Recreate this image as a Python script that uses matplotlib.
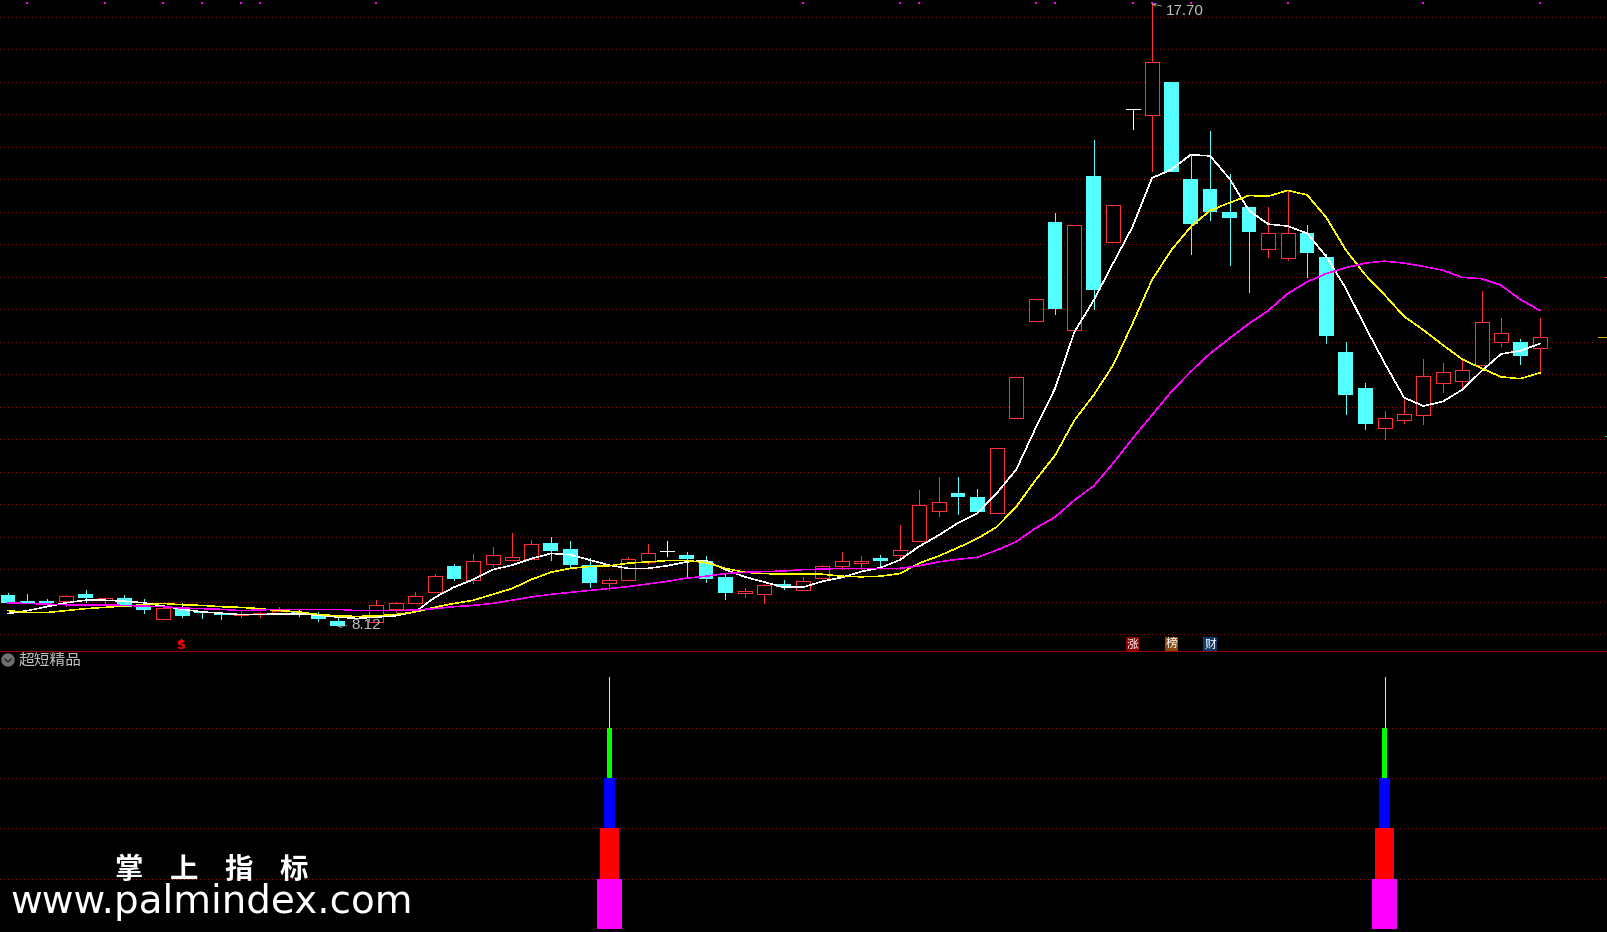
# Candlestick chart with moving averages and a signal panel
from matplotlib import pyplot as plt
from matplotlib.patches import Circle
from matplotlib.transforms import IdentityTransform
import numpy as np

# prices, candle by candle
opens = [8.60, 8.505, 8.505, 8.51, 8.61, 8.52, 8.55, 8.43, 8.23, 8.41,
         8.34, 8.32, 8.29, 8.30, 8.32, 8.34, 8.29, 8.20, 8.25, 8.19,
         8.39, 8.48, 8.65, 9.04, 8.83, 9.08, 9.14, 9.15, 9.40, 9.31,
         9.06, 8.79, 8.83, 9.11, 9.27, 9.21, 9.12, 8.87, 8.63, 8.61,
         8.77, 8.68, 8.86, 9.05, 9.09, 9.17, 9.22, 9.43, 9.89, 10.17,
         10.11, 9.87, 11.33, 12.82, 14.34, 12.68, 15.05, 14.04, 16.08, 15.99,
         16.50, 15.00, 14.85, 14.50, 14.57, 13.93, 13.79, 14.17, 13.80, 12.34,
         11.78, 11.17, 11.30, 11.37, 11.87, 11.89, 12.14, 12.49, 12.50, 12.40]
closes = [8.47, 8.47, 8.47, 8.58, 8.55, 8.55, 8.41, 8.37, 8.40, 8.27,
          8.32, 8.29, 8.30, 8.33, 8.36, 8.30, 8.23, 8.12, 8.27, 8.45,
          8.47, 8.59, 8.90, 8.84, 9.12, 9.21, 9.19, 9.39, 9.27, 9.06,
          8.78, 8.83, 9.15, 9.24, 9.27, 9.15, 8.84, 8.63, 8.66, 8.76,
          8.72, 8.82, 9.04, 9.12, 9.13, 9.12, 9.30, 9.98, 10.03, 10.11,
          9.88, 10.86, 11.95, 13.15, 13.00, 14.29, 13.29, 14.61, 16.08, 16.80,
          15.11, 14.31, 14.50, 14.40, 14.19, 14.17, 14.17, 13.87, 12.59, 11.68,
          11.24, 11.32, 11.38, 11.97, 12.04, 12.07, 12.80, 12.63, 12.28, 12.57]
highs = [8.63, 8.61, 8.54, 8.60, 8.67, 8.55, 8.60, 8.54, 8.41, 8.47,
         8.35, 8.34, 8.35, 8.34, 8.41, 8.37, 8.34, 8.26, 8.28, 8.52,
         8.49, 8.64, 8.92, 9.07, 9.23, 9.34, 9.55, 9.44, 9.49, 9.43,
         9.17, 8.86, 9.18, 9.38, 9.43, 9.26, 9.20, 8.92, 8.71, 8.77,
         8.83, 8.87, 9.06, 9.26, 9.20, 9.21, 9.68, 10.22, 10.42, 10.42,
         10.23, 10.86, 11.95, 13.15, 14.48, 14.29, 15.60, 14.61, 16.08, 17.70,
         16.50, 15.38, 15.74, 15.08, 14.57, 14.57, 14.84, 14.30, 13.85, 12.50,
         11.86, 11.43, 11.65, 12.23, 12.17, 12.24, 13.28, 12.86, 12.54, 12.86]
lows = [8.47, 8.47, 8.43, 8.43, 8.49, 8.47, 8.41, 8.32, 8.23, 8.26,
        8.24, 8.23, 8.26, 8.26, 8.32, 8.27, 8.20, 8.12, 8.24, 8.19,
        8.34, 8.48, 8.65, 8.83, 8.79, 9.05, 9.14, 9.15, 9.14, 9.03,
        8.72, 8.67, 8.83, 9.07, 9.20, 8.89, 8.80, 8.54, 8.57, 8.48,
        8.70, 8.68, 8.86, 9.00, 9.00, 9.03, 9.15, 9.43, 9.81, 9.85,
        9.88, 9.87, 11.33, 12.82, 12.93, 12.68, 13.00, 14.04, 15.77, 15.13,
        15.11, 13.85, 14.37, 13.68, 13.26, 13.80, 13.76, 13.50, 12.48, 11.38,
        11.15, 11.00, 11.25, 11.24, 11.73, 11.76, 12.14, 12.44, 12.15, 12.05]

ma_white = [8.315, 8.36, 8.42, 8.48, 8.52, 8.52, 8.505, 8.48, 8.43, 8.38,
            8.34, 8.32, 8.30, 8.30, 8.31, 8.31, 8.29, 8.26, 8.24, 8.26,
            8.28, 8.34, 8.56, 8.72, 8.84, 8.99, 9.06, 9.16, 9.24, 9.22,
            9.14, 9.06, 9.01, 9.01, 9.05, 9.11, 9.13, 8.99, 8.88, 8.80,
            8.72, 8.72, 8.81, 8.87, 8.96, 9.02, 9.14, 9.35, 9.52, 9.71,
            9.86, 10.17, 10.53, 11.17, 11.78, 12.65, 13.14, 13.71, 14.27, 15.02,
            15.15, 15.38, 15.36, 15.01, 14.52, 14.31, 14.28, 14.17, 13.81, 13.32,
            12.73, 12.17, 11.64, 11.51, 11.58, 11.76, 12.05, 12.31, 12.36, 12.47]
ma_yellow = [8.36, 8.33, 8.33, 8.36, 8.39, 8.41, 8.43, 8.45, 8.47, 8.45,
             8.44, 8.42, 8.41, 8.39, 8.36, 8.34, 8.30, 8.28, 8.27, 8.28,
             8.30, 8.34, 8.41, 8.47, 8.52, 8.61, 8.70, 8.84, 8.95, 9.01,
             9.04, 9.05, 9.09, 9.11, 9.13, 9.13, 9.10, 9.01, 8.95, 8.93,
             8.92, 8.92, 8.92, 8.89, 8.88, 8.89, 8.93, 9.09, 9.20, 9.33,
             9.47, 9.65, 9.96, 10.37, 10.75, 11.29, 11.68, 12.14, 12.78, 13.45,
             13.91, 14.27, 14.52, 14.64, 14.75, 14.74, 14.83, 14.76, 14.41, 13.91,
             13.53, 13.22, 12.89, 12.68, 12.45, 12.23, 12.09, 11.96, 11.93, 12.02]
ma_magenta = [8.48, 8.47, 8.46, 8.45, 8.45, 8.45, 8.44, 8.43, 8.42, 8.40,
              8.39, 8.38, 8.36, 8.37, 8.38, 8.38, 8.38, 8.38, 8.36, 8.36,
              8.36, 8.37, 8.39, 8.42, 8.44, 8.47, 8.52, 8.57, 8.61, 8.64,
              8.67, 8.70, 8.73, 8.77, 8.81, 8.86, 8.89, 8.93, 8.95, 8.96,
              8.97, 8.99, 9.00, 9.01, 9.01, 9.01, 9.01, 9.05, 9.11, 9.15,
              9.18, 9.29, 9.42, 9.63, 9.80, 10.06, 10.28, 10.63, 11.01, 11.37,
              11.73, 12.04, 12.32, 12.55, 12.78, 12.98, 13.24, 13.42, 13.55, 13.64,
              13.71, 13.74, 13.71, 13.66, 13.60, 13.49, 13.47, 13.37, 13.15, 12.98]

# candles flagged along the top edge
signal_idx = [1, 5, 8, 10, 12, 13, 19, 41, 46, 47, 53, 54, 58, 59, 61, 66, 73, 79]
price_grid = [8.0 + 0.5 * k for k in range(20)]

# lower panel: stacked levels at two candles
stack_idx = [31, 71]
stack_bottom = [0, 1, 2, 3]
stack_top = [1, 2, 3, 4]
stack_width = [1.29, 0.98, 0.57, 0.26]
stack_color = ['#ff00ff', '#ff0000', '#0000ff', '#00ff00']
stem_top = 5
level_grid = [1, 2, 3, 4]

# right edge marks (limit up, last close, limit down)
edge_price = [13.49, 12.57, 11.05]
edge_color = ['#ff3232', '#c8b400', '#20c020']
edge_left = [82.35, 82.0, 82.35]

flag_labels = [('涨', 58, '#8b0000'), ('榜', 60, '#8b4a10'), ('财', 62, '#103a6a')]

RED = '#ff3232'
CYAN = '#54ffff'
GRID = '#8c1010'
PX = 0.72
THIN = 0.5
MA_LW = 0.36

opens = np.array(opens)
closes = np.array(closes)
highs = np.array(highs)
lows = np.array(lows)
xs = np.arange(len(opens))

plt.rcParams['font.family'] = ['Noto Sans CJK SC', 'DejaVu Sans']

fig = plt.figure(figsize=(16.08, 9.32), dpi=100, facecolor='black')
ax = fig.add_axes([0, 281 / 932, 1, 651 / 932], facecolor='black')
ax2 = fig.add_axes([0, 0, 1, 280 / 932], facecolor='black')
xlim = (-0.41, 82.52)

for k in price_grid:
    ax.axhline(k, color=GRID, lw=PX, ls=(0, (1, 3)), antialiased=False, zorder=1)

# candles
for i in xs:
    o, c, h, l = opens[i], closes[i], highs[i], lows[i]
    top, bot = max(o, c), min(o, c)
    if i == 58 or i == 34:
        col = 'white'
        ax.vlines(i, l, h, color=col, lw=THIN, antialiased=False, zorder=3)
        ax.hlines(c, i - 0.36, i + 0.36, color=col, lw=THIN, antialiased=False, zorder=3)
        continue
    col = RED if c >= o else CYAN
    ax.vlines(i, top, h, color=col, lw=THIN, antialiased=False, zorder=3)
    ax.vlines(i, l, bot, color=col, lw=THIN, antialiased=False, zorder=3)
    if c >= o:
        ax.bar(i, top - bot, bottom=bot, width=0.72, facecolor='black', edgecolor=RED,
               linewidth=THIN, antialiased=False, zorder=3)
    else:
        ax.bar(i, top - bot, bottom=bot, width=0.76, facecolor=CYAN, edgecolor=CYAN,
               linewidth=0, antialiased=False, zorder=3)

# moving averages
ax.plot(xs, ma_white, color='white', lw=MA_LW, antialiased=False, zorder=4)
ax.plot(xs, ma_yellow, color='#ffff00', lw=MA_LW, antialiased=False, zorder=4)
ax.plot(xs, ma_magenta, color='#ff00ff', lw=MA_LW, antialiased=False, zorder=4)

# top edge flags
ax.scatter(signal_idx, [1 - 3 / 651] * len(signal_idx), transform=ax.get_xaxis_transform(),
           marker='s', s=3.2, color='#ff00ff', linewidths=0, zorder=5)

# high and low labels
ax.annotate('17.70', xy=(59, 17.70), xytext=(1166, 932 - 11), textcoords='figure pixels',
            color='#c0c0c0', fontsize=11, family='Liberation Sans', va='center', zorder=6,
            arrowprops=dict(arrowstyle='->', color='#c0c0c0', lw=THIN, shrinkA=1, shrinkB=0,
                            mutation_scale=6))
ax.annotate('8.12', xy=(17, 8.12), xytext=(351, 932 - 625), textcoords='figure pixels',
            color='#c0c0c0', fontsize=11, family='Liberation Sans', va='center', zorder=6,
            arrowprops=dict(arrowstyle='->', color='#c0c0c0', lw=THIN, shrinkA=1, shrinkB=0,
                            mutation_scale=6))

# marks along the bottom of the price panel
ax.text(8.9, 8 + (634 - 645.5) / 64.95, 'S', color='#ff0000', fontsize=9, fontweight='bold',
        family='DejaVu Sans', ha='center', va='center', zorder=6)
ax.plot([8.9], [8 + (634 - 640) / 64.95], marker='^', ms=3.5, color='#ff0000', mew=0, ls='none',
        zorder=6)
for label, i, col in flag_labels:
    ax.text(i, 8 + (634 - 644) / 64.95, label, color='white', fontsize=8.5, ha='center',
            va='center', zorder=6,
            bbox=dict(boxstyle='square,pad=0.08', facecolor=col, edgecolor='none'))

for p, col, left in zip(edge_price, edge_color, edge_left):
    ax.hlines(p, left, xlim[1], color=col, lw=THIN, antialiased=False, zorder=5)

ax.set_xlim(xlim)
ax.set_ylim(7.738, 17.761)
ax.axis('off')

# lower panel
for k in level_grid:
    ax2.axhline(k, color=GRID, lw=PX, ls=(0, (1, 3)), antialiased=False, zorder=1)
for i in stack_idx:
    ax2.vlines(i, stack_top[-1], stem_top, color='#ffff00', lw=THIN, antialiased=False, zorder=3)
    for b, t, w, col in zip(stack_bottom, stack_top, stack_width, stack_color):
        ax2.bar(i, t - b, bottom=b, width=w, color=col, linewidth=0, antialiased=False, zorder=3)
ax2.set_xlim(xlim)
ax2.set_ylim(-0.06, 5.5)
ax2.axis('off')

# separator, panel title, watermark
fig.add_artist(plt.Line2D([0, 1], [281 / 932, 281 / 932], color='#a00000', lw=THIN,
                          antialiased=False))
fig.add_artist(Circle((8, 932 - 660), 6, color='#707070', transform=IdentityTransform()))
fig.add_artist(plt.Line2D([5, 8, 11], [932 - 659, 932 - 662, 932 - 659], color='#202020', lw=1,
                          transform=IdentityTransform()))
fig.text(18.5 / 1608, 1 - 660.5 / 932, '超短精品', color='#c0c0c0', fontsize=11.3, va='center')
for ch, px in zip('掌上指标', [129, 184, 239, 294]):
    fig.text(px / 1608, 1 - 870 / 932, ch, color='white', fontsize=20.5, fontweight='bold',
             ha='center', va='center')
fig.text(10 / 1608, 1 - 913 / 932, 'www.palmindex.com', color='white', fontsize=28,
         family='DejaVu Sans', va='baseline')

plt.savefig('out.png', dpi=100, facecolor='black')
